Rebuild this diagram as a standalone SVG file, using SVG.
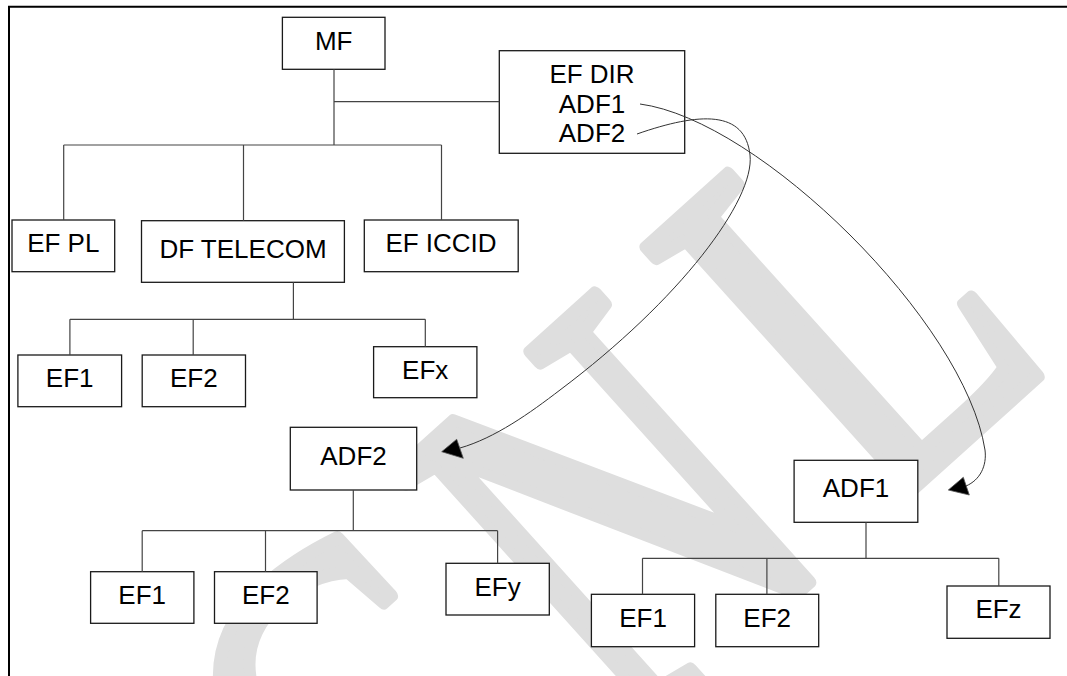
<svg xmlns="http://www.w3.org/2000/svg" width="1067" height="676" viewBox="0 0 1067 676">
  <style>
    .frame { stroke: #000; stroke-width: 2; fill: none; }
    .box { fill: #fff; stroke: #1a1a1a; stroke-width: 1.3; }
    .lbl { font-family: "Liberation Sans", Arial, sans-serif; font-size: 26px; fill: #000; text-anchor: middle; }
    .tree { stroke: #444; stroke-width: 1.2; fill: none; }
    .link { stroke: #333; stroke-width: 1; fill: none; }
    .head { fill: #000; stroke: #555; stroke-width: 0.8; stroke-linejoin: miter; }
    .mark { font-family: "Liberation Serif", "Times New Roman", serif; font-size: 546px; fill: #dedede; stroke: #dedede; stroke-width: 14; stroke-linejoin: round; letter-spacing: 61px; }
  </style>

  <rect x="0" y="0" width="1067" height="676" fill="#fff"/>

  <!-- background watermark -->
  <text class="mark" transform="translate(391.8,957.8) rotate(-42) scale(0.74,1)" x="0" y="0">CNL</text>

  <!-- page frame (top and left edges) -->
  <polyline class="frame" points="9,676 9,6.7 1067,6.7"/>

  <g id="mf"><rect class="box" x="282.4" y="17.3" width="102.6" height="52"/><text class="lbl" x="333.7" y="50">MF</text></g>
  <g id="ef-dir">
    <rect class="box" x="499.3" y="50.7" width="185.4" height="102.6"/>
    <text class="lbl" x="592" y="83">EF DIR</text>
    <text class="lbl" x="592" y="112.7">ADF1</text>
    <text class="lbl" x="592" y="142.3">ADF2</text>
  </g>
  <g id="ef-pl"><rect class="box" x="12" y="220" width="102.7" height="51.7"/><text class="lbl" x="63.3" y="251.7">EF PL</text></g>
  <g id="df-telecom"><rect class="box" x="141.5" y="220.7" width="202.9" height="61.6"/><text class="lbl" x="243" y="258.3">DF TELECOM</text></g>
  <g id="ef-iccid"><rect class="box" x="364.3" y="220" width="153.9" height="51.7"/><text class="lbl" x="441" y="251.7">EF ICCID</text></g>

  <g id="telecom-ef1"><rect class="box" x="17.9" y="355" width="103.7" height="51.7"/><text class="lbl" x="69.7" y="386.7">EF1</text></g>
  <g id="telecom-ef2"><rect class="box" x="142.2" y="355" width="103.3" height="51.7"/><text class="lbl" x="193.8" y="386.7">EF2</text></g>
  <g id="telecom-efx"><rect class="box" x="373.6" y="346.7" width="103.3" height="51"/><text class="lbl" x="425.2" y="379">EFx</text></g>

  <g id="adf2"><rect class="box" x="290.3" y="427.3" width="126.4" height="62.7"/><text class="lbl" x="353.5" y="465">ADF2</text></g>
  <g id="adf2-ef1"><rect class="box" x="90.6" y="571.7" width="103.3" height="51.6"/><text class="lbl" x="142.2" y="604">EF1</text></g>
  <g id="adf2-ef2"><rect class="box" x="214.5" y="571.7" width="102.6" height="51.6"/><text class="lbl" x="265.8" y="604">EF2</text></g>
  <g id="adf2-efy"><rect class="box" x="446" y="563.3" width="103.3" height="51.7"/><text class="lbl" x="497.6" y="596">EFy</text></g>

  <g id="adf1"><rect class="box" x="794.1" y="460.3" width="123.7" height="62"/><text class="lbl" x="856" y="497.3">ADF1</text></g>
  <g id="adf1-ef1"><rect class="box" x="591.4" y="594.3" width="103.2" height="52.4"/><text class="lbl" x="643" y="626.7">EF1</text></g>
  <g id="adf1-ef2"><rect class="box" x="715.8" y="594.3" width="102.9" height="52.4"/><text class="lbl" x="767.2" y="626.7">EF2</text></g>
  <g id="adf1-efz"><rect class="box" x="947" y="586" width="103" height="52.3"/><text class="lbl" x="998.5" y="618.3">EFz</text></g>

  <!-- connectors, drawn last so the EF DIR links show over their box -->
  <g id="connectors">
    <path class="tree" d="M334,69.3 V145 M334,101.7 H499.3"/>
    <path class="tree" d="M63.7,145 H441.5 M63.7,145 V220 M243.5,145 V220.7 M441.5,145 V220"/>
    <path class="tree" d="M293.4,282.3 V319.3 M69.9,319.3 H425.3 M69.9,319.3 V355 M193.2,319.3 V355 M425.3,319.3 V346.7"/>
    <path class="tree" d="M353.3,490 V530.7 M142.2,530.7 H497.6 M142.2,530.7 V571.7 M265.5,530.7 V571.7 M497.6,530.7 V563.3"/>
    <path class="tree" d="M866,522.3 V558.3 M642.5,558.3 H998.8 M642.5,558.3 V594.3 M766.9,558.3 V594.3 M998.8,558.3 V586"/>

    <!-- EF DIR entries pointing to the applications -->
    <path class="link" d="M640,104 C760,120 965,322 985,450 C987,466 980,480 966,486"/>
    <polygon class="head" points="948.3,490 963.3,477.3 969.3,495"/>
    <path class="link" d="M637,134 C700,112 745,110 750,155 C755,200 680,300 560,390 C530,413 495,438 460,448"/>
    <polygon class="head" points="441.7,451.7 456.7,439.3 463.3,458.3"/>
  </g>
</svg>
